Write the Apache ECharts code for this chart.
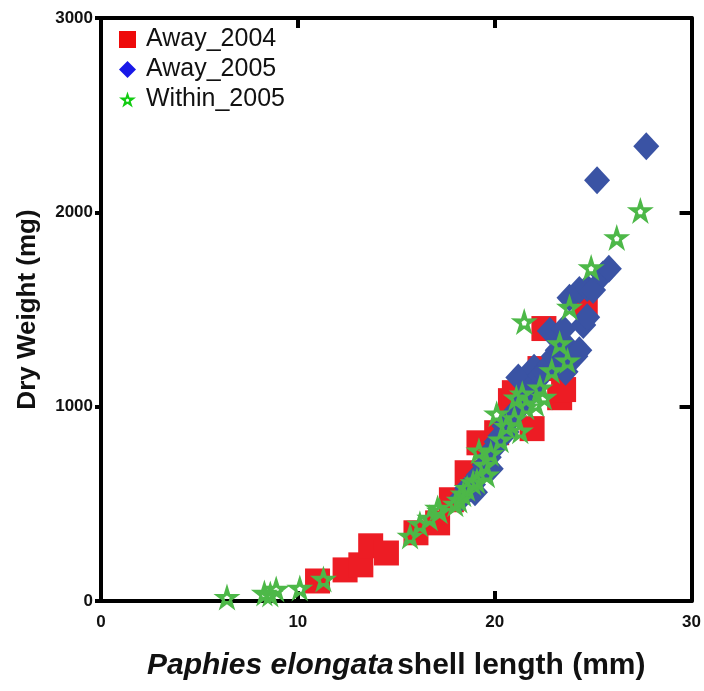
<!DOCTYPE html>
<html>
<head>
<meta charset="utf-8">
<script src="https://cdn.jsdelivr.net/npm/echarts@6/dist/echarts.min.js"></script>
<style>html,body{margin:0;padding:0;background:#fff}#c{width:704px;height:691px}</style>
</head>
<body>
<div id="c"></div>
<script>
var seriesNames = ['Away_2004', 'Away_2005', 'Within_2005'];
var xTicks = [0, 10, 20, 30];
var yTicks = [0, 1000, 2000, 3000];

var away2004 = [
  [11.0, 103], [12.4, 160], [13.2, 186], [13.7, 284], [14.5, 247], [16.0, 351],
  [17.1, 402], [17.8, 521], [18.6, 660], [19.2, 814], [20.1, 866], [20.8, 1031],
  [21.0, 1072], [21.9, 887], [22.3, 1196], [22.5, 1402], [23.3, 1046], [23.5, 1088],
  [24.6, 1531]
];
var away2005 = [
  [18.3, 530], [18.6, 580], [18.9, 600], [19.0, 560], [19.2, 650], [19.5, 700],
  [19.7, 740], [19.8, 680], [19.9, 780], [20.1, 820], [20.3, 850], [20.5, 900],
  [20.6, 870], [20.7, 930], [20.9, 950], [21.1, 980], [21.2, 1150], [21.3, 1000],
  [21.5, 1030], [21.7, 1060], [21.9, 1090], [22.0, 1200], [22.1, 1130], [22.3, 1160],
  [22.5, 1180], [22.8, 1220], [22.8, 1390], [23.0, 1260], [23.2, 1290], [23.5, 1330],
  [23.5, 1400], [23.6, 1180], [23.8, 1560], [24.1, 1260], [24.3, 1290], [24.3, 1600],
  [24.5, 1420], [24.7, 1460], [24.7, 1610], [25.0, 1600], [25.5, 1680], [25.8, 1710],
  [25.2, 2165], [27.7, 2340]
];
var within2005 = [
  [6.4, 20], [8.3, 41], [8.6, 36], [8.9, 62], [10.1, 67], [11.3, 113],
  [15.7, 335], [16.2, 397], [16.7, 428], [17.1, 479], [17.2, 464], [18.0, 500],
  [18.2, 520], [18.4, 552], [18.6, 580], [18.9, 610], [19.1, 619], [19.2, 773],
  [19.5, 700], [19.6, 650], [19.8, 760], [20.1, 964], [20.3, 830], [20.6, 900],
  [21.0, 940], [21.1, 1046], [21.3, 876], [21.4, 1067], [21.5, 1438], [21.6, 1000],
  [22.1, 1015], [22.3, 1098], [22.5, 1050], [22.9, 1186], [23.3, 1325], [23.7, 1237],
  [23.8, 1513], [24.9, 1716], [26.2, 1871], [27.4, 2010]
];

var starPath = 'path://M50 0 L61.2 34.6 L97.55 34.55 L68.1 55.9 L79.39 90.45 L50 69 L20.61 90.45 L31.9 55.9 L2.45 34.55 L38.8 34.6 Z M50 40 L40.49 46.91 L44.12 58.09 L55.88 58.09 L59.51 46.91 Z';

var chart = echarts.init(document.getElementById('c'), null, {renderer: 'canvas'});
var font = 'Liberation Sans, Arial, sans-serif';

chart.setOption({
  animation: false,
  backgroundColor: '#fff',
  grid: {left: 101, right: 12, top: 18, bottom: 90, containLabel: false},
  legend: {
    orient: 'vertical',
    left: 114,
    top: 22,
    itemGap: 5,
    itemWidth: 17,
    itemHeight: 17,
    textStyle: {fontFamily: font, fontSize: 25, color: '#111', padding: [0, 0, 0, 5]},
    data: [
      {name: seriesNames[0], icon: 'rect', itemStyle: {color: '#EE0A0A'}},
      {name: seriesNames[1], icon: 'diamond', itemStyle: {color: '#1818E8'}},
      {name: seriesNames[2], icon: starPath, itemStyle: {color: '#12CC12'}}
    ]
  },
  xAxis: [{
    type: 'value', min: 0, max: 30, interval: 10, position: 'bottom',
    axisLine: {show: true, onZero: false, lineStyle: {color: '#000', width: 4}},
    axisTick: {show: true, inside: true, length: 10, lineStyle: {color: '#000', width: 4}},
    axisLabel: {show: true, margin: 13, fontFamily: font, fontWeight: 'bold', fontSize: 17, color: '#111',
      formatter: function (v) { return xTicks.indexOf(v) >= 0 ? String(v) : ''; }},
    splitLine: {show: false},
    name: '{i|Paphies elongata} {n|shell length (mm)}',
    nameLocation: 'middle', nameGap: 50,
    nameTextStyle: {
      rich: {
        i: {fontFamily: font, fontSize: 30, fontWeight: 'bold', fontStyle: 'italic', color: '#111'},
        n: {fontFamily: font, fontSize: 30, fontWeight: 'bold', color: '#111'}
      }
    }
  }, {
    type: 'value', min: 0, max: 30, interval: 10, position: 'top',
    axisLine: {show: true, onZero: false, lineStyle: {color: '#000', width: 4}},
    axisTick: {show: true, inside: true, length: 10, lineStyle: {color: '#000', width: 4}},
    axisLabel: {show: false}, splitLine: {show: false}
  }],
  yAxis: [{
    type: 'value', min: 0, max: 3000, interval: 1000, position: 'left',
    axisLine: {show: true, onZero: false, lineStyle: {color: '#000', width: 4}},
    axisTick: {show: true, inside: false, length: 6, lineStyle: {color: '#000', width: 4}},
    axisLabel: {show: true, margin: 8, fontFamily: font, fontWeight: 'bold', fontSize: 17, color: '#111',
      formatter: function (v) { return yTicks.indexOf(v) >= 0 ? String(v) : ''; }},
    splitLine: {show: false},
    name: 'Dry Weight (mg)', nameLocation: 'middle', nameGap: 60,
    nameTextStyle: {fontFamily: font, fontSize: 26, fontWeight: 'bold', color: '#111'}
  }, {
    type: 'value', min: 0, max: 3000, interval: 1000, position: 'right',
    axisLine: {show: true, onZero: false, lineStyle: {color: '#000', width: 4}},
    axisTick: {show: true, inside: true, length: 12, lineStyle: {color: '#000', width: 4}},
    axisLabel: {show: false}, splitLine: {show: false}
  }],
  series: [{
    name: seriesNames[0], type: 'scatter', data: away2004, symbol: 'rect', symbolSize: 25,
    itemStyle: {color: '#ED1C24', opacity: 1}, z: 2
  }, {
    name: seriesNames[1], type: 'scatter', data: away2005, symbol: 'diamond', symbolSize: [26, 28],
    itemStyle: {color: '#3A53A4', opacity: 1}, z: 3
  }, {
    name: seriesNames[2], type: 'scatter', data: within2005, symbol: starPath, symbolSize: 27,
    itemStyle: {color: '#4DB848', opacity: 1}, z: 4
  }]
});
</script>
</body>
</html>
